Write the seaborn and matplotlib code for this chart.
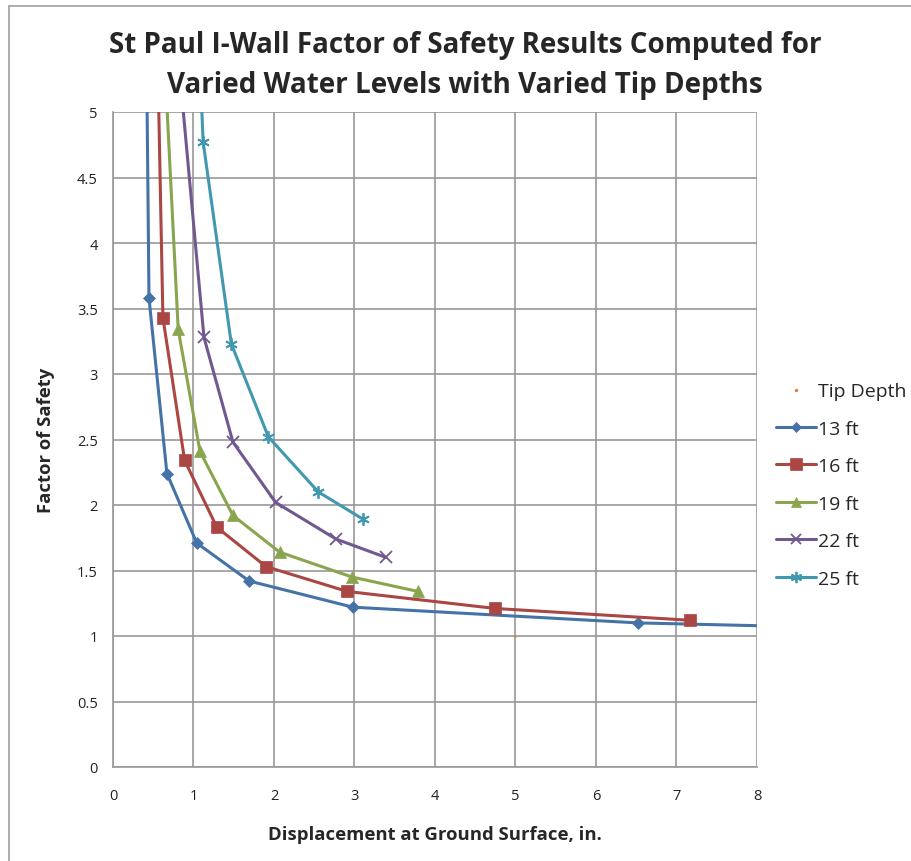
import numpy as np
import pandas as pd
import matplotlib.pyplot as plt
from matplotlib.lines import Line2D
import seaborn as sns

# data (points above 5 / right of 8 are clipped by the axes)
x_13 = [0.40, 0.447, 0.67, 1.04, 1.69, 2.98, 6.52, 10.0]
fs_13 = [6.5, 3.58, 2.24, 1.71, 1.42, 1.22, 1.10, 1.05]
x_16 = [0.52, 0.62, 0.89, 1.29, 1.90, 2.91, 4.75, 7.17]
fs_16 = [6.5, 3.43, 2.34, 1.83, 1.53, 1.34, 1.21, 1.12]
x_19 = [0.55, 0.81, 1.08, 1.49, 2.07, 2.97, 3.79]
fs_19 = [6.5, 3.34, 2.41, 1.92, 1.64, 1.45, 1.34]
x_22 = [0.65, 1.13, 1.49, 2.02, 2.77, 3.39]
fs_22 = [6.5, 3.28, 2.48, 2.02, 1.74, 1.60]
x_25 = [1.00, 1.12, 1.47, 1.93, 2.55, 3.11]
fs_25 = [6.5, 4.77, 3.23, 2.52, 2.10, 1.89]
tip_x = [5.0]
tip_y = [1.0]

labels = ['13 ft', '16 ft', '19 ft', '22 ft', '25 ft']
colors = ['#4572A7', '#AA4643', '#89A54E', '#71588F', '#4198AF']
markers = ['D', 's', '^', 'x', (6, 2, 0)]
msizes = [6, 9, 8, 8, 9]

series = [(x_13, fs_13), (x_16, fs_16), (x_19, fs_19), (x_22, fs_22), (x_25, fs_25)]
frames = []
for lab, (xs, ys) in zip(labels, series):
    frames.append(pd.DataFrame({'disp': xs, 'fs': ys, 'depth': lab}))
df = pd.concat(frames, ignore_index=True)

sns.set_style('white')
plt.rcParams['font.family'] = ['Open Sans', 'DejaVu Sans']

fig = plt.figure(figsize=(9.12, 8.62), dpi=100)
ax = fig.add_axes([113/912, 1 - 768/862, (757 - 113)/912, (768 - 113)/862])


def edge_w(mk):
    return 1.3 if mk == 'x' or isinstance(mk, tuple) else 0.5


for lab, col, mk, ms in zip(labels, colors, markers, msizes):
    sub = df[df['depth'] == lab]
    sns.lineplot(data=sub, x='disp', y='fs', sort=False, ax=ax, color=col,
                 linewidth=2.2, marker=mk, markersize=ms, markeredgecolor=col,
                 markeredgewidth=edge_w(mk), legend=False)
sns.scatterplot(x=tip_x, y=tip_y, ax=ax, color='#DB843D', s=4, linewidth=0, legend=False)

ax.set_xlim(0, 8)
ax.set_ylim(0, 5)
ax.set_xticks(np.arange(0, 9, 1))
ax.set_yticks(np.arange(0, 5.01, 0.5))
ax.set_yticklabels(['0', '0.5', '1', '1.5', '2', '2.5', '3', '3.5', '4', '4.5', '5'])
ax.grid(True, color='#989898', linewidth=1.2)
ax.set_axisbelow(True)
for s in ['top', 'right']:
    ax.spines[s].set_visible(False)
for s in ['left', 'bottom']:
    ax.spines[s].set_color('#989898')
    ax.spines[s].set_linewidth(1.2)
ax.tick_params(axis='both', direction='out', length=5, width=1.2, color='#989898',
               labelsize=10.5, labelcolor='#222222', pad=6)
ax.tick_params(axis='x', pad=10)
ax.set_xlabel('')
ax.set_ylabel('')

fig.text(465/912, 1 - 45/862, 'St Paul I-Wall Factor of Safety Results Computed for',
         ha='center', va='center', fontsize=20, fontweight='bold')
fig.text(465/912, 1 - 85/862, 'Varied Water Levels with Varied Tip Depths',
         ha='center', va='center', fontsize=20, fontweight='bold')
fig.text(435/912, 1 - 835/862, 'Displacement at Ground Surface, in.',
         ha='center', va='center', fontsize=13.3, fontweight='bold')
fig.text(46/912, 1 - 440/862, 'Factor of Safety', rotation=90,
         ha='center', va='center', fontsize=13.3, fontweight='bold')

# chart area border
fig.add_artist(Line2D([9/912, 9/912], [0, 1 - 7/862], color='#a0a0a0', lw=1.2))
fig.add_artist(Line2D([9/912, 1], [1 - 7/862, 1 - 7/862], color='#a0a0a0', lw=1.2))

handles = [Line2D([], [], color='#DB843D', marker='.', markersize=3, linestyle='none')]
for col, mk, ms in zip(colors, markers, msizes):
    handles.append(Line2D([], [], color=col, marker=mk, markersize=ms * 0.9, lw=2.2,
                          markeredgewidth=edge_w(mk)))
fig.legend(handles, ['Tip Depth'] + labels, loc='center left',
           bbox_to_anchor=(776/912, 1 - 486/862), frameon=False, fontsize=14,
           handlelength=2.05, labelspacing=1.0, handletextpad=0.1,
           borderpad=0, borderaxespad=0)

fig.savefig('out.png', dpi=100)
